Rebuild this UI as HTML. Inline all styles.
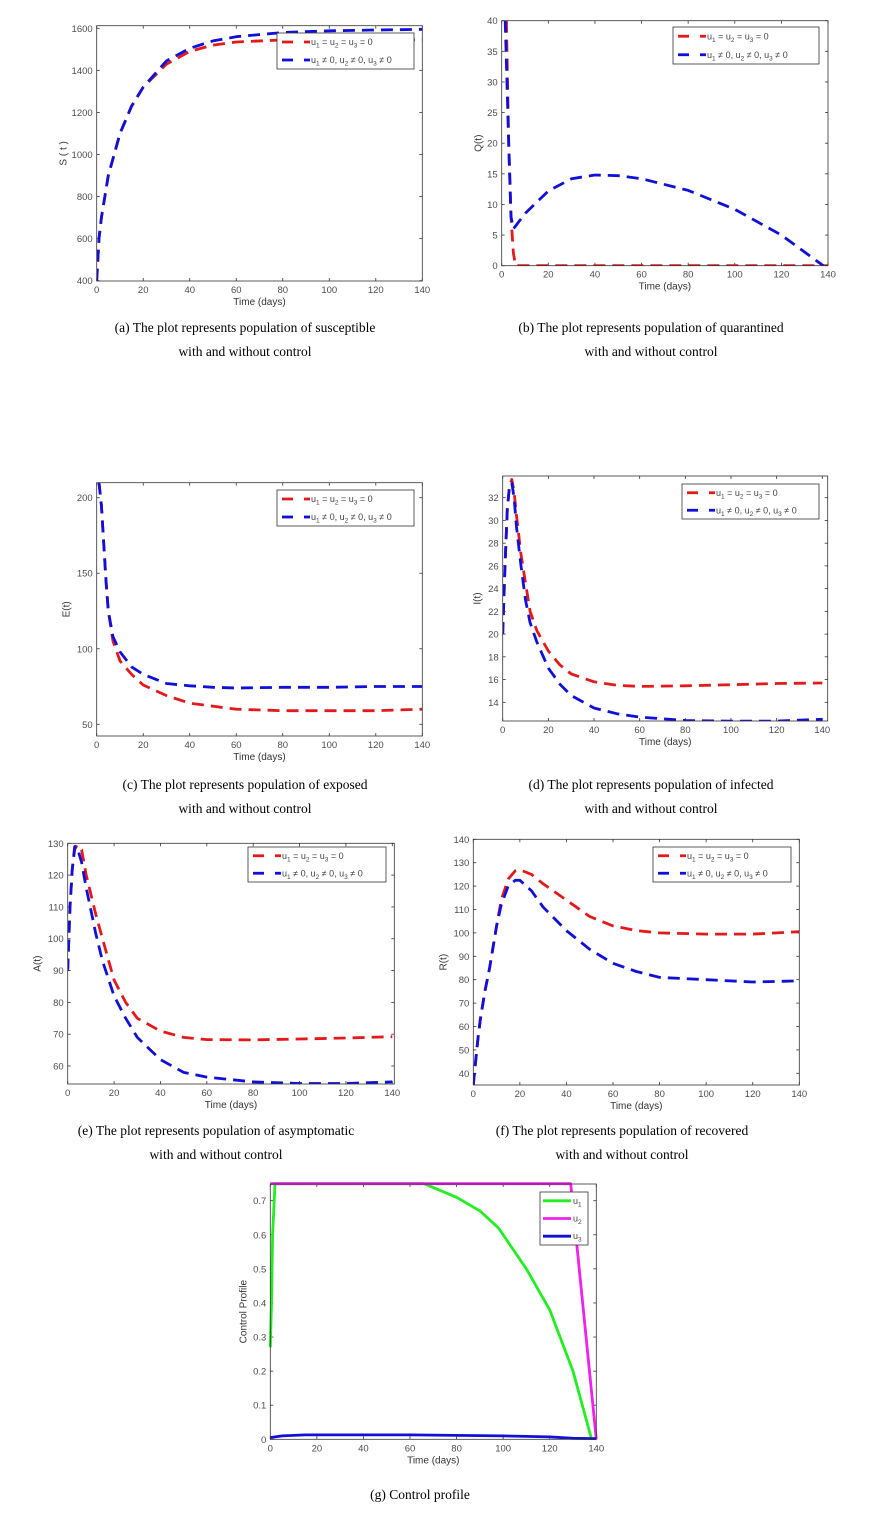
<!DOCTYPE html>
<html><head><meta charset="utf-8">
<style>
body{margin:0;background:#fff;width:872px;height:1517px;overflow:hidden}
svg{position:absolute;left:0;top:0}
.tk{font-family:"Liberation Sans",sans-serif;font-size:9.5px;fill:#4d4d4d}
.lb{font-family:"Liberation Sans",sans-serif;font-size:10px;fill:#333}
.lg{font-family:"Liberation Sans",sans-serif;font-size:9px;fill:#444}
.cap{font-family:"Liberation Serif",serif;font-size:13.5px;fill:#000}
</style></head>
<body>
<svg id="fig" width="872" height="1517" xmlns="http://www.w3.org/2000/svg"></svg>
<script>
// ---- data ----
const aT=[0,1,2,5,10,15,20,30,40,50,60,80,100,120,140];
const aRed=[400,600,700,900,1100,1230,1320,1430,1490,1520,1535,1545,1545,1545,1545];
const aBlue=[400,600,700,900,1100,1230,1320,1445,1505,1540,1560,1580,1588,1592,1595];
const bTRed=[2,3,4,5,6,20,40,60,80,100,120,140];
const bRed=[40,20,8,2,0,0,0,0,0,0,0,0];
const bTBlue=[1.5,3,4,5,10,20,30,40,50,60,80,100,120,138];
const bBlue=[40,20,8,6,8.5,12.2,14.2,14.8,14.7,14.2,12.3,9.2,5,0];
const cT=[1,2,3,4,5,7,10,15,20,30,40,50,60,80,100,120,140];
const cRed=[210,195,170,145,125,105,92,83,76,69,64,62,60,59,59,59,60];
const cBlue=[210,195,170,145,125,108,98,88,83,77,75.5,74.5,74,74.5,74.5,75,75];
const dT=[0,1,2,3,4,5,6,8,10,12,15,20,25,30,40,50,60,80,100,120,140];
const dRed=[20,26,31,33,33.6,32.5,30.5,27,24.5,22,20.3,18.5,17.3,16.5,15.8,15.5,15.4,15.45,15.55,15.65,15.7];
const dBlue=[20,26,31,33,33.3,32,29.5,26,23,21,19.3,17,15.6,14.6,13.5,13,12.7,12.4,12.35,12.35,12.5];
const eT=[0,1,2,3,4,6,8,10,12,15,20,25,30,40,50,60,80,100,120,140];
const eRed=[90,110,122,128,129.5,128,120,114,108,100,87,80,75,71,69,68.3,68.2,68.5,68.8,69.2];
const eBlue=[90,110,122,129,129,124,116,109,102,93,82,75,69,62,58,56.5,55,54.5,54.5,55];
const fT=[0,1,2,3,5,7,10,12,15,18,20,25,30,40,50,60,70,80,100,120,140];
const fRed=[35,45,55,63,75,85,103,114,123,126.5,127,125,121,114,107,103,101,100,99.5,99.5,100.5];
const fBlue=[35,45,55,63,75,85,103,112,120,122.5,122.5,118,111,101,93,87,83.5,81,80,79,79.5];
const gT1=[0,0.5,1,2,66,80,90,98,110,120,130,138];
const gU1=[0.27,0.4,0.6,0.75,0.75,0.71,0.67,0.62,0.5,0.38,0.2,0];
const gT2=[0,129,140];
const gU2=[0.75,0.75,0];
const gT3=[0,5,15,60,100,120,130,140];
const gU3=[0.005,0.01,0.013,0.013,0.01,0.007,0.003,0.002];
const xTicks=[0,20,40,60,80,100,120,140];
const aY=[400,600,800,1000,1200,1400,1600];
const bY=[0,5,10,15,20,25,30,35,40];
const cY=[50,100,150,200];
const dY=[14,16,18,20,22,24,26,28,30,32];
const eY=[60,70,80,90,100,110,120,130];
const fY=[40,50,60,70,80,90,100,110,120,130,140];
const gY=[0,0.1,0.2,0.3,0.4,0.5,0.6,0.7];
const gYLab=['0','0.1','0.2','0.3','0.4','0.5','0.6','0.7'];

const NS="http://www.w3.org/2000/svg";
const fig=document.getElementById('fig');
function mk(tag,attrs,parent){const e=document.createElementNS(NS,tag);for(const k in attrs)e.setAttribute(k,attrs[k]);(parent||fig).appendChild(e);return e;}

function panel(cfg){
  const g=mk('g',{});
  
  
  const X=t=>cfg.x0+(t-0)/140*(cfg.x140-cfg.x0);
  const Y=v=>cfg.yb+(v-cfg.ymin)/(cfg.ymax-cfg.ymin)*(cfg.yt-cfg.yb);
  xTicks.forEach(t=>{
    const x=X(t);
    mk('line',{x1:x,x2:x,y1:cfg.bottom,y2:cfg.bottom-3,stroke:'#333','stroke-width':0.8},g);
    mk('line',{x1:x,x2:x,y1:cfg.top,y2:cfg.top+3,stroke:'#333','stroke-width':0.8},g);
    const tx=mk('text',{x:x,y:cfg.bottom+12,'text-anchor':'middle',class:'tk'},g);
    
    
    tx.textContent=t;
  });
  cfg.yticks.forEach((v,i)=>{
    const y=Y(v);
    mk('line',{x1:cfg.left,x2:cfg.left+3,y1:y,y2:y,stroke:'#333','stroke-width':0.8},g);
    mk('line',{x1:cfg.right,x2:cfg.right-3,y1:y,y2:y,stroke:'#333','stroke-width':0.8},g);
    const tx=mk('text',{x:cfg.left-4,y:y+3.5,'text-anchor':'end',class:'tk'},g);
    
    
    tx.textContent=cfg.ylab?cfg.ylab[i]:v;
  });
  const cp='cp'+cfg.name;
  const clip=mk('clipPath',{id:cp},g);
  mk('rect',{x:cfg.left,y:cfg.top-2,width:cfg.right-cfg.left,height:cfg.bottom-cfg.top+2},clip);
  cfg.series.forEach(s=>{
    const d=s.t.map((t,i)=>(i?'L':'M')+X(t).toFixed(1)+','+Y(s.v[i]).toFixed(1)).join(' ');
    const p=mk('path',{d:d,fill:'none',stroke:s.c,'stroke-width':s.w||2.8,'stroke-dasharray':s.dash||'none','clip-path':cfg.noclip?'none':'url(#'+cp+')','stroke-linejoin':'round'},g);
    
    
  });
  const bx=mk('rect',{x:cfg.left,y:cfg.top,width:cfg.right-cfg.left,height:cfg.bottom-cfg.top,fill:'none',stroke:'#333','stroke-width':0.8},g);
  
  
  const xl=mk('text',{x:(cfg.left+cfg.right)/2,y:cfg.bottom+24,'text-anchor':'middle',class:'lb'},g);
  
  
  xl.textContent='Time (days)';
  const yc=(cfg.top+cfg.bottom)/2, yx=cfg.left-cfg.yoff;
  const yl=mk('text',{x:yx,y:yc,'text-anchor':'middle',class:'lb',transform:'rotate(-90 '+yx+' '+yc+')'},g);
  
  
  yl.textContent=cfg.ytitle;
  const L=cfg.leg;
  const lg=mk('g',{},g);
  
  
  mk('rect',{x:L.x,y:L.y,width:L.w,height:L.h,fill:'#fff',stroke:'#333','stroke-width':0.8},lg);
  const n=L.items.length, rh=L.h/n;
  L.items.forEach((it,i)=>{
    const cy=L.y+rh*(i+0.5);
    if(it.solid){mk('line',{x1:L.x+3,x2:L.x+L.w-17,y1:cy,y2:cy,stroke:it.c,'stroke-width':2.8},lg);}
    else{
      mk('line',{x1:L.x+5,x2:L.x+16,y1:cy,y2:cy,stroke:it.c,'stroke-width':2.8},lg);
      mk('line',{x1:L.x+27,x2:L.x+33,y1:cy,y2:cy,stroke:it.c,'stroke-width':2.8},lg);
    }
    const tx=mk('text',{x:it.solid?L.x+L.w-15:L.x+34,y:cy+3,class:'lg'},lg);
    
    
    tx.innerHTML=it.html;
  });
}
const S=n=>'<tspan dy="2.5" font-size="6.5">'+n+'</tspan><tspan dy="-2.5">';
const legNone='u'+S(1)+' = u</tspan>'+S(2)+' = u</tspan>'+S(3)+' = 0</tspan>';
const legCtrl='u'+S(1)+' \u2260 0, u</tspan>'+S(2)+' \u2260 0, u</tspan>'+S(3)+' \u2260 0</tspan>';
const DASH='12 7';
function items(){return [{c:'#e41a1a',html:legNone},{c:'#1010d8',html:legCtrl}];}
function sr(t1,v1,t2,v2){return [{t:t1,v:v1,c:'#e41a1a',dash:DASH,name:'series-no-control'},{t:t2,v:v2,c:'#1010d8',dash:DASH,name:'series-with-control'}];}

panel({name:'panel-a-susceptible',x0:96.7,x140:422.3,left:96.7,right:422.3,top:25.7,bottom:281,yb:280.7,yt:28.3,ymin:400,ymax:1600,yticks:aY,ytitle:'S  ( t )',yoff:30,
 series:sr(aT,aRed,aT,aBlue),leg:{x:277,y:33,w:137,h:36,items:items()}});
panel({name:'panel-b-quarantined',x0:501.7,x140:828,left:501.7,right:828,top:20.7,bottom:265.7,yb:265.7,yt:20.7,ymin:0,ymax:40,yticks:bY,ytitle:'Q(t)',yoff:20,
 series:sr(bTRed,bRed,bTBlue,bBlue),leg:{x:673,y:27,w:146,h:37,items:items()}});
panel({name:'panel-c-exposed',x0:96.7,x140:422.3,left:96.7,right:422.3,top:482.7,bottom:736,yb:724.3,yt:497.7,ymin:50,ymax:200,yticks:cY,ytitle:'E(t)',yoff:27,
 series:sr(cT,cRed,cT,cBlue),leg:{x:277,y:490,w:137,h:36,items:items()}});
panel({name:'panel-d-infected',x0:502.7,x140:822.3,left:502.7,right:827.7,top:476,bottom:721,yb:702.3,yt:497.7,ymin:14,ymax:32,yticks:dY,ytitle:'I(t)',yoff:22,
 series:sr(dT,dRed,dT,dBlue),leg:{x:682,y:484,w:137,h:35,items:items()}});
panel({name:'panel-e-asymptomatic',x0:67.7,x140:392.3,left:67.7,right:394.3,top:843.3,bottom:1084,yb:1066,yt:843.3,ymin:60,ymax:130,yticks:eY,ytitle:'A(t)',yoff:27,
 series:sr(eT,eRed,eT,eBlue),leg:{x:248,y:847,w:138,h:35,items:items()}});
panel({name:'panel-f-recovered',x0:473.3,x140:799.3,left:473.3,right:799.3,top:839.3,bottom:1085,yb:1073.3,yt:839.3,ymin:40,ymax:140,yticks:fY,ytitle:'R(t)',yoff:27,
 series:sr(fT,fRed,fT,fBlue),leg:{x:653,y:847,w:138,h:35,items:items()}});
panel({name:'panel-g-control',x0:270.3,x140:596.3,left:270.3,right:596.3,top:1184,bottom:1439.3,yb:1439.3,yt:1200.7,ymin:0,ymax:0.7,yticks:gY,ylab:gYLab,ytitle:'Control Profile',yoff:24,noclip:true,
 series:[{t:gT1,v:gU1,c:'#22ee22',name:'series-u1'},{t:gT2,v:gU2,c:'#ee22ee',name:'series-u2'},{t:gT3,v:gU3,c:'#1010d8',name:'series-u3'}],
 leg:{x:540,y:1192,w:48,h:53,items:[{c:'#22ee22',solid:1,html:'u'+S(1)+'</tspan>'},{c:'#ee22ee',solid:1,html:'u'+S(2)+'</tspan>'},{c:'#1010d8',solid:1,html:'u'+S(3)+'</tspan>'}]}});

const caps=[[245,332,'(a) The plot represents population of susceptible'],[245,356,'with and without control'],
[651,332,'(b) The plot represents population of quarantined'],[651,356,'with and without control'],
[245,789,'(c) The plot represents population of exposed'],[245,813,'with and without control'],
[651,789,'(d) The plot represents population of infected'],[651,813,'with and without control'],
[216,1135,'(e) The plot represents population of asymptomatic'],[216,1159,'with and without control'],
[622,1135,'(f) The plot represents population of recovered'],[622,1159,'with and without control'],
[420,1499,'(g) Control profile']];
caps.forEach(c=>{const t=mk('text',{x:c[0],y:c[1],'text-anchor':'middle',class:'cap'});


t.textContent=c[2];});
</script>
</body></html>
